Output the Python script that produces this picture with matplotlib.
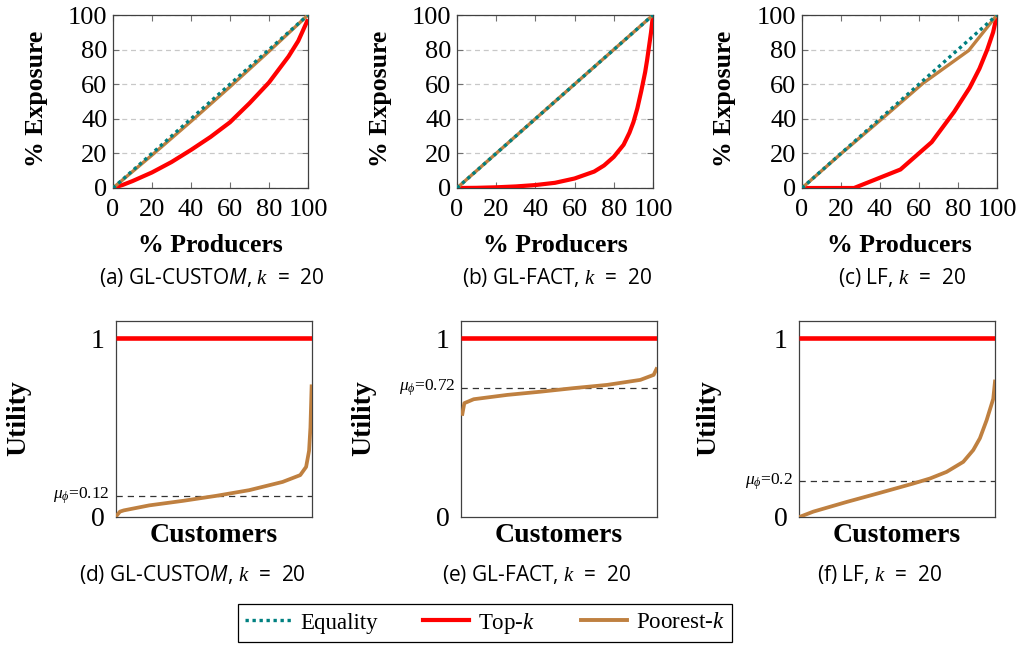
import matplotlib
matplotlib.use("Agg")
import matplotlib.pyplot as plt
from matplotlib.lines import Line2D

plt.rcParams["font.family"] = ["Liberation Serif", "DejaVu Serif"]
plt.rcParams["mathtext.fontset"] = "custom"
plt.rcParams["mathtext.rm"] = "Liberation Serif"
plt.rcParams["mathtext.it"] = "Liberation Serif:italic"
plt.rcParams["mathtext.sf"] = "Open Sans:italic"

# ---------------- data ----------------
# Lorenz curves of producer exposure (% producers -> % exposure)
eq_x = [0, 100]
eq_y = [0, 100]

topk_a_x = [0, 5, 10, 20, 30, 40, 50, 60, 70, 80, 90, 95, 100]
topk_a_y = [0, 1.8, 4, 9, 15, 22, 29.5, 38, 49, 61, 76, 85, 97.5]
poor_a_x = [0, 20, 40, 60, 80, 100]
poor_a_y = [0, 19, 38.5, 58.5, 79, 100]

topk_b_x = [0, 10, 20, 30, 40, 50, 60, 70, 75, 80, 85, 88, 90, 92, 94, 96, 97, 98, 99, 100]
topk_b_y = [0, 0.1, 0.4, 0.9, 1.7, 3, 5.5, 9.5, 13, 18, 25, 32, 38, 46, 56, 67, 74, 82, 90, 100]
poor_b_x = [0, 100]
poor_b_y = [0, 100]

topk_c_x = [0, 26.7, 50.5, 66.5, 78, 86, 91, 95, 98, 100]
topk_c_y = [0, 0, 10.7, 26.5, 44, 58, 69, 80, 90, 100]
poor_c_x = [0, 20, 41, 62, 85.5, 100]
poor_c_y = [0, 19.8, 40, 60.5, 79.5, 100]

# Sorted per-customer utility (fraction of customers -> utility)
topk_util = [1.0, 1.0]
util_x_span = [0, 1]

poor_d_x = [0.005, 0.02, 0.04, 0.17, 0.34, 0.51, 0.68, 0.85, 0.94, 0.97, 0.985, 0.992, 0.998]
poor_d_y = [0.01, 0.03, 0.037, 0.065, 0.09, 0.118, 0.15, 0.196, 0.234, 0.28, 0.37, 0.5, 0.73]
poor_e_x = [0.007, 0.017, 0.065, 0.235, 0.405, 0.575, 0.745, 0.915, 0.983, 0.997]
poor_e_y = [0.576, 0.636, 0.658, 0.682, 0.70, 0.72, 0.738, 0.766, 0.794, 0.826]
poor_f_x = [0.002, 0.073, 0.243, 0.413, 0.583, 0.668, 0.753, 0.838, 0.889, 0.923, 0.957, 0.991, 1.0]
poor_f_y = [0, 0.03, 0.084, 0.135, 0.187, 0.215, 0.252, 0.308, 0.374, 0.44, 0.54, 0.66, 0.757]

mean_util = [0.12, 0.72, 0.2]
mean_labels = ["0.12", "0.72", "0.2"]

exposure_ticks = [0, 20, 40, 60, 80, 100]
utility_ticks = [0, 1]

top_captions = [r"(a) GL-CUSTO$\mathsf{M}$, $k$  =  20",
                r"(b) GL-FACT, $k$  =  20",
                r"(c) LF, $k$  =  20"]
bottom_captions = [r"(d) GL-CUSTO$\mathsf{M}$, $k$  =  20",
                   r"(e) GL-FACT, $k$  =  20",
                   r"(f) LF, $k$  =  20"]
series_names = ["Equality", r"Top-$k$", r"Poorest-$k$"]

# ---------------- style ----------------
TEAL = "#008080"
RED = "#ff0000"
BROWN = "#bf8040"
SPINE = "#404040"
CAPTION_FONT = "Open Sans"
W, H = 1026, 646

fig = plt.figure(figsize=(W / 100, H / 100), dpi=100)


def add_axes_px(x0, x1, y_top, y_bot):
    return fig.add_axes([x0 / W, (H - y_bot) / H, (x1 - x0) / W, (y_bot - y_top) / H])


def style_spines(ax):
    for s in ax.spines.values():
        s.set_color(SPINE)
        s.set_linewidth(0.9)


# ---------------- top row: Lorenz curves ----------------
top_boxes = [(113, 308), (457, 653), (802, 997)]
top_data = [(topk_a_x, topk_a_y, poor_a_x, poor_a_y),
            (topk_b_x, topk_b_y, poor_b_x, poor_b_y),
            (topk_c_x, topk_c_y, poor_c_x, poor_c_y)]
ylabel_x = [36, 380, 724]
cap_top_x = [212, 557, 902]

for i, ((x0, x1), (tx, ty, px, py)) in enumerate(zip(top_boxes, top_data)):
    ax = add_axes_px(x0, x1, 15, 188)
    ax.set_xlim(0, 100)
    ax.set_ylim(0, 100)
    ax.set_xticks(exposure_ticks)
    ax.set_yticks(exposure_ticks)
    ax.tick_params(direction="in", length=4, width=0.8, color="#707070",
                   top=True, right=True, labelsize=19)
    ax.tick_params(axis="x", pad=8)
    ax.tick_params(axis="y", pad=4)
    ax.yaxis.grid(True, linestyle=(0, (4, 3)), color="#c8c8c8", linewidth=0.9)
    ax.set_axisbelow(True)
    ax.plot(tx, ty, color=RED, lw=3.0, zorder=3, solid_capstyle="butt")
    ax.plot(px, py, color=BROWN, lw=2.4, zorder=4)
    ax.plot(eq_x, eq_y, color=TEAL, lw=2.4, linestyle=(0, (1, 1.1)),
            dash_capstyle="butt", zorder=5)
    style_spines(ax)
    fig.text(ylabel_x[i] / W, 1 - 99 / H, "% Exposure", rotation=90,
             ha="center", va="center", fontsize=18.5, fontweight="bold")
    fig.text((x0 + x1) / 2 / W, 1 - 246 / H, "% Producers",
             ha="center", va="center", fontsize=18.5, fontweight="bold")
    fig.text(cap_top_x[i] / W, 1 - 277 / H, top_captions[i],
             ha="center", va="center", fontsize=15, family=CAPTION_FONT)

# ---------------- bottom row: utility curves ----------------
bot_boxes = [(116, 312), (461, 657), (799, 995)]
bot_data = [(poor_d_x, poor_d_y), (poor_e_x, poor_e_y), (poor_f_x, poor_f_y)]
util_label_x = [19, 364, 709]
cap_bot_x = [192, 537, 879]

for i, ((x0, x1), (px, py)) in enumerate(zip(bot_boxes, bot_data)):
    ax = add_axes_px(x0, x1, 321, 517)
    ax.set_xlim(0, 1)
    ax.set_ylim(0, 1.095)
    ax.set_xticks([])
    ax.set_yticks(utility_ticks)
    ax.tick_params(length=0, labelsize=20, pad=8)
    ax.plot(util_x_span, topk_util, color=RED, lw=3.3, zorder=3, solid_capstyle="butt")
    ax.plot(px, py, color=BROWN, lw=2.7, zorder=4)
    ax.axhline(mean_util[i], color="#333333", lw=0.9, linestyle=(0, (5, 4)), zorder=2)
    ax.text(-0.03, mean_util[i], r"$\mu_{\phi}$=" + mean_labels[i],
            transform=ax.get_yaxis_transform(), ha="right", va="center",
            fontsize=12.5)
    style_spines(ax)
    fig.text(util_label_x[i] / W, 1 - 418 / H, "Utility", rotation=90,
             ha="center", va="center", fontsize=20, fontweight="bold")
    fig.text((x0 + x1) / 2 / W, 1 - 536 / H, "Customers",
             ha="center", va="center", fontsize=20, fontweight="bold")
    fig.text(cap_bot_x[i] / W, 1 - 574 / H, bottom_captions[i],
             ha="center", va="center", fontsize=15, family=CAPTION_FONT)

# ---------------- shared legend ----------------
handles = [
    Line2D([], [], color=TEAL, lw=2.4, linestyle=(0, (1, 1.1)), dash_capstyle="butt"),
    Line2D([], [], color=RED, lw=3.0),
    Line2D([], [], color=BROWN, lw=2.8),
]
fig.legend(handles, series_names, loc="center", bbox_to_anchor=(485 / W, 1 - 623 / H),
           ncol=3, fontsize=16.5, frameon=True, fancybox=False, edgecolor="black",
           handlelength=2.0, handletextpad=0.4, columnspacing=2.0,
           borderpad=0.3, framealpha=1)
fig.legends[0].get_frame().set_linewidth(0.9)

fig.savefig("out.png", dpi=100)
